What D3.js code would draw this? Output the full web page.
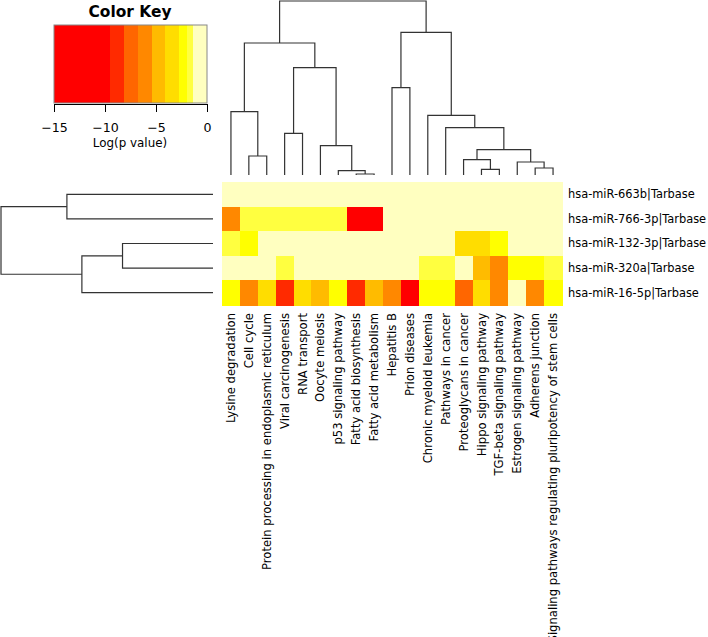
<!DOCTYPE html>
<html>
<head>
<meta charset="utf-8">
<script src="https://cdn.jsdelivr.net/npm/d3@7"></script>
<style>
  body { margin: 0; background: #fff; }
</style>
</head>
<body>
<script>
// pathways (columns) in dendrogram order
var colLabels = [
  "Lysine degradation", "Cell cycle", "Protein processing in endoplasmic reticulum",
  "Viral carcinogenesis", "RNA transport", "Oocyte meiosis", "p53 signaling pathway",
  "Fatty acid biosynthesis", "Fatty acid metabolism", "Hepatitis B", "Prion diseases",
  "Chronic myeloid leukemia", "Pathways in cancer", "Proteoglycans in cancer",
  "Hippo signaling pathway", "TGF-beta signaling pathway", "Estrogen signaling pathway",
  "Adherens junction", "Signaling pathways regulating pluripotency of stem cells"
];
var rowLabels = [
  "hsa-miR-663b|Tarbase", "hsa-miR-766-3p|Tarbase", "hsa-miR-132-3p|Tarbase",
  "hsa-miR-320a|Tarbase", "hsa-miR-16-5p|Tarbase"
];

// log(p value) per miRNA, one value per pathway
var miR663b = [-0.5, -0.5, -0.5, -0.5, -0.5, -0.5, -0.5, -0.5, -0.5, -0.5, -0.5, -0.5, -0.5, -0.5, -0.5, -0.5, -0.5, -0.5, -0.5];
var miR766 = [-6.0, -1.7, -1.7, -1.7, -1.7, -1.7, -1.7, -12.0, -12.0, -0.5, -0.5, -0.5, -0.5, -0.5, -0.5, -0.5, -0.5, -0.5, -0.5];
var miR132 = [-1.7, -2.3, -0.5, -0.5, -0.5, -0.5, -0.5, -0.5, -0.5, -0.5, -0.5, -0.5, -0.5, -3.4, -3.4, -2.3, -0.5, -0.5, -0.5];
var miR320a = [-0.5, -0.5, -0.5, -1.7, -0.5, -0.5, -0.5, -0.5, -0.5, -0.5, -0.5, -1.7, -1.7, -0.3, -4.7, -6.2, -2.3, -2.3, -1.7];
var miR16 = [-2.3, -6.0, -3.4, -8.6, -3.4, -4.7, -2.3, -9.0, -4.7, -6.0, -10.5, -2.3, -2.3, -7.4, -3.4, -6.2, -0.5, -6.2, -2.3];
var logP = [miR663b, miR766, miR132, miR320a, miR16];

// colour key
var keyBreaks = [-15, -9.5, -8.14, -6.76, -5.42, -4.08, -2.7, -2.0, -1.34, 0];
var keyColors = ["#ff0000", "#ff2a00", "#ff6600", "#ff8800", "#ffbb00", "#ffdd00", "#ffff00", "#ffff40", "#ffffc0"];
var keyTicks = [-15, -10, -5, 0];

// hclust-style merges: negative = leaf (1-based), positive = earlier merge, then height
var colMerge = [
  [-8, -9, 1], [-7, 1, 4.3], [-6, 2, 29.3], [-4, -5, 41.7], [4, 3, 107.3],
  [-2, -3, 19], [-1, 6, 63.3], [7, 5, 132], [-10, -11, 87.3], [-15, -16, 5.7],
  [-14, 10, 15.3], [-18, -19, 7], [-17, 12, 13], [11, 13, 25.3], [-13, 14, 47.3],
  [-12, 15, 59.7], [9, 16, 142.7], [8, 17, 174]
];
var rowMerge = [[-1, -2, 146.3], [-3, -4, 90.6], [2, -5, 131.3], [1, 3, 212.3]];

var FONT = "DejaVu Sans";
var W = 708, H = 637;
var svg = d3.select("body").append("svg").attr("width", W).attr("height", H);

// scale the font size of a selection so that the summed length of its texts hits a target
function fitText(sel, base, target) {
  sel.style("font-size", base + "px");
  var len = 0;
  sel.each(function() { len += this.getComputedTextLength(); });
  sel.style("font-size", (base * target / len).toFixed(2) + "px");
}

var x = d3.scaleBand().domain(d3.range(colLabels.length)).range([222, 562]);
var y = d3.scaleBand().domain(d3.range(rowLabels.length)).range([182, 305]);
var color = d3.scaleThreshold().domain(keyBreaks.slice(1, -1)).range(keyColors);

// heat cells
var cells = [];
logP.forEach(function(row, i) {
  row.forEach(function(v, j) { cells.push({ r: i, c: j, v: v }); });
});
svg.append("g").selectAll("rect").data(cells).enter().append("rect")
  .attr("x", function(d) { return x(d.c); })
  .attr("y", function(d) { return y(d.r); })
  .attr("width", x.bandwidth() + 0.5)
  .attr("height", y.bandwidth() + 0.5)
  .attr("fill", function(d) { return color(d.v); })
  .attr("shape-rendering", "crispEdges");

// row labels
svg.append("g").selectAll("text").data(rowLabels).enter().append("text")
  .attr("x", 568)
  .attr("y", function(d, i) { return y(i) + y.bandwidth() / 2; })
  .attr("dy", "0.35em")
  .style("font-family", FONT)
  .style("font-size", "11.4px")
  .attr("fill", "#000")
  .text(function(d) { return d; });

// column labels (rotated)
svg.append("g").selectAll("text").data(colLabels).enter().append("text")
  .attr("transform", function(d, i) { return "translate(" + (x(i) + x.bandwidth() / 2) + ",313) rotate(-90)"; })
  .attr("dy", "0.35em")
  .attr("text-anchor", "end")
  .style("font-family", FONT)
  .style("font-size", "11.6px")
  .attr("fill", "#000")
  .text(function(d) { return d; });

// dendrogram: returns list of U shaped paths in (pos, height) coordinates
function dendro(merge, leafPos) {
  var nodes = [];
  var segs = [];
  function get(k) {
    if (k < 0) return { p: leafPos(-k - 1), h: 0 };
    return nodes[k - 1];
  }
  merge.forEach(function(m) {
    var a = get(m[0]), b = get(m[1]);
    segs.push([[a.p, a.h], [a.p, m[2]], [b.p, m[2]], [b.p, b.h]]);
    nodes.push({ p: (a.p + b.p) / 2, h: m[2] });
  });
  return segs;
}

var colH = d3.scaleLinear().domain([0, 174]).range([175, 1]);
var colSegs = dendro(colMerge, function(i) { return x(i) + x.bandwidth() / 2; });
svg.append("g").selectAll("path").data(colSegs).enter().append("path")
  .attr("d", d3.line().x(function(p) { return p[0]; }).y(function(p) { return colH(p[1]); }))
  .attr("fill", "none").attr("stroke", "#333").attr("stroke-width", 1.2);

var rowH = d3.scaleLinear().domain([0, 212.3]).range([213, 1]);
var rowSegs = dendro(rowMerge, function(i) { return y(i) + y.bandwidth() / 2; });
svg.append("g").selectAll("path").data(rowSegs).enter().append("path")
  .attr("d", d3.line().x(function(p) { return rowH(p[1]); }).y(function(p) { return p[0]; }))
  .attr("fill", "none").attr("stroke", "#333").attr("stroke-width", 1.2);

// colour key
var kx = d3.scaleLinear().domain([-15, 0]).range([54, 207]);
var key = svg.append("g");
key.selectAll("rect").data(keyColors).enter().append("rect")
  .attr("x", function(d, i) { return kx(keyBreaks[i]); })
  .attr("y", 25)
  .attr("width", function(d, i) { return kx(keyBreaks[i + 1]) - kx(keyBreaks[i]) + 0.3; })
  .attr("height", 78)
  .attr("fill", function(d) { return d; })
  .attr("shape-rendering", "crispEdges");
key.append("rect").attr("x", 54).attr("y", 25).attr("width", 153).attr("height", 78)
  .attr("fill", "none").attr("stroke", "#888").attr("stroke-width", 1);

var axis = key.append("g").attr("transform", "translate(0,104)")
  .call(d3.axisBottom(kx).tickValues(keyTicks).tickSize(8).tickSizeOuter(0).tickFormat(d3.format("d")));
axis.select(".domain").attr("stroke", "#000");
axis.selectAll(".tick line").attr("stroke", "#000");
axis.selectAll(".tick text")
  .style("font-family", FONT).style("font-size", "12.6px").attr("fill", "#000")
  .attr("y", 0).attr("dy", "2.25em");

var title = key.append("text").attr("x", 130).attr("y", 17).attr("text-anchor", "middle")
  .style("font-family", FONT).style("font-weight", "bold")
  .attr("fill", "#000").text("Color Key");
fitText(title, 14, 83);
var xlab = key.append("text").attr("x", 130).attr("y", 147).attr("text-anchor", "middle")
  .style("font-family", FONT)
  .attr("fill", "#000").text("Log(p value)");
fitText(xlab, 12, 74.4);
</script>
</body>
</html>
